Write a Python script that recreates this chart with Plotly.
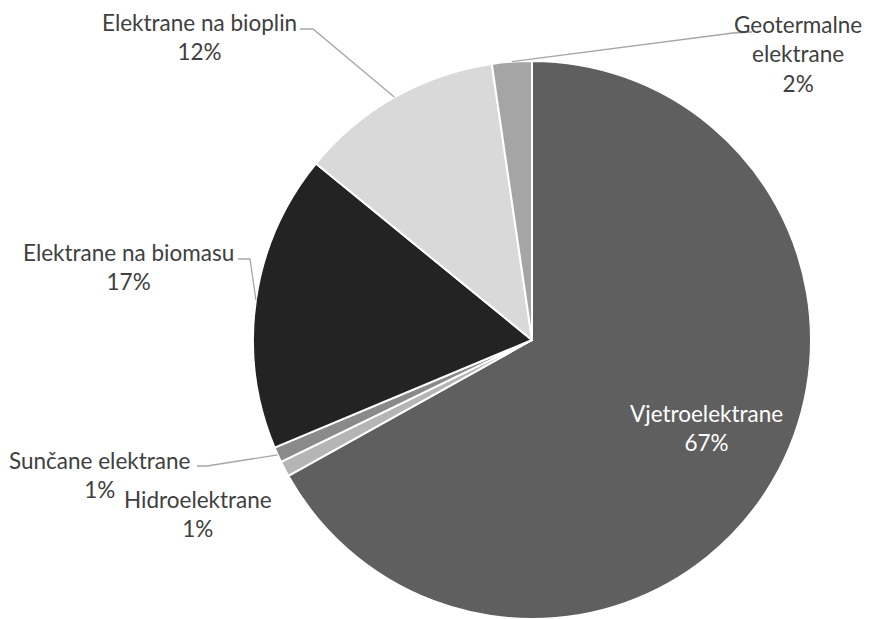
import math
import plotly.graph_objects as go

# ---- data ----
labels = ["Vjetroelektrane", "Hidroelektrane", "Sunčane elektrane",
          "Elektrane na biomasu", "Elektrane na bioplin", "Geotermalne elektrane"]
values = [66.9, 0.9, 0.9, 17.2, 11.8, 2.3]
colors = ["#5f5f5f", "#b5b5b5", "#8a8a8a", "#232323", "#d9d9d9", "#a5a5a5"]

# ---- layout constants (window pixels) ----
W, H = 889, 619
OFF = 8  # default page body margin shifts the figure by this many px
CX, CY, R = 532, 340, 279

label_text = {
    0: ("Vjetroelektrane", (706, 428), "white"),
    1: ("Hidroelektrane", (198, 514), "#404040"),
    2: ("Sunčane elektrane", (100, 475), "#404040"),
    3: ("Elektrane na biomasu", (128, 267), "#404040"),
    4: ("Elektrane na bioplin", (199, 37), "#404040"),
    5: ("Geotermalne<br>elektrane", (798, 54), "#404040"),
}
leaders = {
    2: [(197, 466), (207, 466)],
    3: [(238, 259), (250, 259)],
    4: [(300, 29), (313, 29)],
    5: [(752, 32), (733, 33)],
}

def px2paper(x, y):
    return (x - OFF) / W, 1 - (y - OFF) / H

total = sum(values)
x0, y1 = px2paper(CX - R, CY - R)
x1, y0 = px2paper(CX + R, CY + R)
fig = go.Figure(go.Pie(
    labels=labels, values=values, sort=False, direction="clockwise", rotation=0,
    marker=dict(colors=colors, line=dict(color="white", width=2)),
    textinfo="none", hoverinfo="label+percent", showlegend=False,
    domain=dict(x=[x0, x1], y=[y0, y1]),
))

annotations = []
shapes = []
cum = 0.0
for i, v in enumerate(values):
    start = cum / total * 360
    cum += v
    end = cum / total * 360
    mid = math.radians((start + end) / 2)
    ex, ey = CX + R * math.sin(mid), CY - R * math.cos(mid)
    name, (lx, ly), col = label_text[i]
    pct = f"{round(v / total * 100)}%"
    px, py = px2paper(lx, ly)
    annotations.append(dict(
        x=px, y=py, xref="paper", yref="paper", xanchor="center", yanchor="middle",
        text=f"{name}<br>{pct}", showarrow=False, align="center",
        font=dict(family="Lato, Carlito, Calibri, sans-serif", size=22.5, color=col),
    ))
    if i in leaders:
        pts = leaders[i] + [(ex, ey)]
        path = "M " + " L ".join(f"{px2paper(a, b)[0]},{px2paper(a, b)[1]}" for a, b in pts)
        shapes.append(dict(type="path", xref="paper", yref="paper", path=path,
                           line=dict(color="#a6a6a6", width=1.3)))

fig.update_layout(
    width=W, height=H, margin=dict(l=0, r=0, t=0, b=0),
    paper_bgcolor="white", plot_bgcolor="white",
    annotations=annotations, shapes=shapes,
)
fig.write_html("out.html")
